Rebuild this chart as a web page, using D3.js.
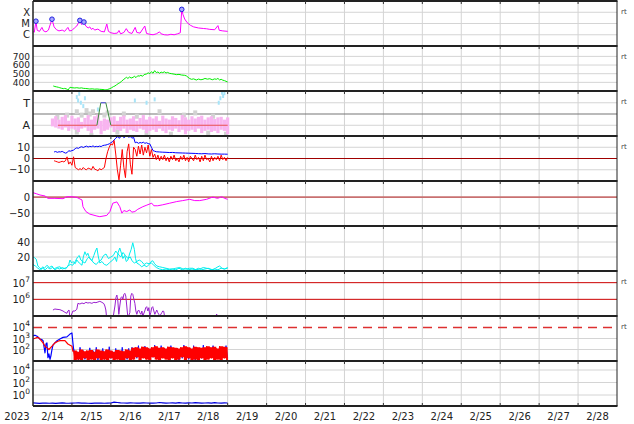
<!DOCTYPE html>
<html><head><meta charset="utf-8">
<script src="https://cdn.jsdelivr.net/npm/d3@7"></script>
<style>body{margin:0;background:#fff}svg{display:block}text{font-family:"DejaVu Sans",sans-serif}</style>
</head><body><svg id="c" width="634" height="424"></svg>
<script>
// ---------- DATA (hours since 2023-02-14 00:00 UTC) ----------
const dayLabels = ["2/14","2/15","2/16","2/17","2/18","2/19","2/20","2/21","2/22","2/23","2/24","2/25","2/26","2/27","2/28"];
const yearLabel = "2023";
const xrayTicks = [[1e-4,"X"],[1e-5,"M"],[1e-6,"C"]];
const xray = [[0,1.9e-6],[0.8,1.7e-6],[1.8,1.6e-5],[2.6,2.5e-6],[4,2.0e-6],[5.5,4.5e-6],[6.5,2.2e-6],[8,1.8e-6],[9.5,2.6e-6],[11.7,2.4e-5],[13,5e-6],[14.5,2.8e-6],[16,2.2e-6],[18,2.6e-6],[19.5,2.0e-6],[21.5,4.5e-6],[22.5,2.2e-6],[24,2.4e-6],[25.5,4e-6],[27,6e-6],[28.9,1.9e-5],[30,8e-6],[31.4,1.35e-5],[32.5,6e-6],[34,4e-6],[35,5e-6],[36,3e-6],[37,3.8e-6],[38,2.6e-6],[40,3.2e-6],[42,2.0e-6],[44,1.8e-6],[45.5,9e-6],[46.5,2.0e-6],[48,1.5e-6],[50,1.3e-6],[52,1.4e-6],[53,2.4e-6],[54,1.2e-6],[56,1.6e-6],[57.5,3.5e-6],[59,1.6e-6],[61,1.3e-6],[63,4.5e-6],[64,1.6e-6],[66,1.4e-6],[68.9,6e-6],[70,1.3e-6],[72,1.1e-6],[74,1.0e-6],[76,1.2e-6],[78,1.8e-6],[79,1.2e-6],[81,1.0e-6],[83,9.5e-7],[85,1.1e-6],[87,1.0e-6],[89,1.2e-6],[90.8,1.5e-6],[91.7,1.8e-4],[92.5,6e-5],[93.5,2.5e-5],[95,1.2e-5],[97,7e-6],[99,5e-6],[102,4e-6],[105,3.6e-6],[107,3.4e-6],[109,3e-6],[112,2.8e-6],[114,6.5e-6],[114.8,2.5e-6],[117,2.2e-6],[120,2.0e-6]];
const flares = [[1.8,1.6e-5],[11.7,2.4e-5],[28.9,1.9e-5],[31.4,1.35e-5],[91.7,1.8e-4]];

const speedTicks = [400,500,600,700];
const speed = [[12.5,358],[13.5,352],[14.5,348],[15.6,343],[16.5,338],[17.5,332],[18.7,327],[19.5,330],[20.5,325],[21.2,318],[21.7,312],[22.3,330],[22.8,343],[24,338],[25.8,335],[27,338],[28.5,333],[30,336],[31,331],[32.5,329],[34,326],[35,323],[36.5,325],[38,321],[39.5,323],[41,320],[42.5,318],[44,315],[45,312],[46,318],[47.4,327],[48.5,338],[49.5,350],[50.5,358],[51.5,372],[52.5,385],[53.5,396],[54.5,410],[55.5,428],[56,435],[57,450],[57.7,458],[58.5,445],[59.5,462],[60.5,450],[61.7,458],[62.5,470],[63.5,455],[64.5,475],[65.8,473],[66.5,482],[67.5,470],[68.5,490],[70,497],[71,510],[72,500],[73,523],[74,505],[75,535],[76,512],[77,520],[78,505],[79,518],[80,512],[81,522],[82,508],[83,515],[84,505],[85.5,500],[87,495],[88.4,489],[90,492],[91.5,485],[93.5,481],[94.5,475],[95.6,458],[96.5,445],[97.7,435],[99,440],[100.7,427],[102,438],[103.5,430],[104.8,435],[106,445],[107.5,437],[109,442],[110.5,430],[112,440],[113,435],[114,445],[115,428],[116,435],[117,425],[118,420],[119,412],[120,404]];

const probTicks = [[3,"T"],[1,"A"]];
const probHours = [39.4,41.8,44.9,48];
const probLevels = [1,3,3,1];
const pinkStart = 12, pinkStep = 2;
const pinkHi = [1.6,1.8,1.5,1.75,1.9,1.4,1.85,1.6,1.7,1.3,1.65,1.9,1.5,1.8,1.95,1.4,1.6,1.5,1.7,1.8,1.4,1.75,1.85,1.5,1.6,1.8,1.4,1.65,1.9,1.5,1.75,1.6,1.8,1.4,1.85,1.6,1.5,1.8,1.65,1.45,1.9,1.7,1.5,1.8,1.6,1.75,1.85,1.5,1.7,1.8,1.55,1.7,1.75,1.5,1.7];
const pinkLo = [0.9,0.8,0.7,0.6,0.8,0.5,0.7,0.6,0.4,0.7,0.8,0.5,0.3,0.6,0.7,0.2,0.5,0.6,0.8,0.4,0.6,0.5,0.7,0.3,0.6,0.5,0.4,0.7,0.6,0.3,0.5,0.6,0.4,0.7,0.5,0.3,0.6,0.5,0.7,0.4,0.6,0.2,0.5,0.6,0.4,0.7,0.3,0.5,0.6,0.4,0.5,0.3,0.6,0.5,0.2];
const grayPts = [[15,1.7],[21,1.9],[27,2.2],[30,1.9],[33,2.3],[35,2.0],[37,2.2],[44,1.9],[46,2.1],[52,0.4],[56,2.0],[64,1.8],[70,0.3],[78,2.2],[85,0.2],[93,1.9],[100,2.1],[108,0.3],[111,1.8],[119,0.2],[36,0.1],[27,0.4]];
const cyanPts = [[27,3.5],[27.8,3.2],[28.5,3.8],[29.5,3.0],[31,2.7],[32,3.4],[40,2.4],[62.8,3.2],[70,3.0],[75,3.3],[114.5,3.0],[115.5,3.4],[116.5,3.9],[117.2,3.6],[118,3.85]];

const bTicks = [10,0,-10];
const bt = [[13,5.8],[14,6.2],[15,5.5],[16,6],[17,5.8],[18,6.3],[19,5.5],[20,4.8],[21,5.2],[22,6.9],[23,6.5],[24,7],[25,7.5],[26,8.7],[27,9.5],[28,9],[29,10],[30,10.5],[31,9.8],[32,10.5],[33,11],[34,10.2],[35,10.8],[36,10.5],[37,11.2],[38,10.4],[39,10.8],[40,10.5],[41,11],[42,10.6],[43,11.5],[44,11.8],[45,12],[46,12.5],[47,13],[48,14],[49,15],[50,16.5],[51,18],[52,19.5],[53,18],[54,19],[55,20],[56,18.5],[57,19.5],[58,20],[59,19],[60,19.5],[61,18],[62,19],[63,14],[64,14.5],[65,13.5],[66,14.2],[67,13.8],[68,14.5],[69,13.5],[70,14],[71,13.2],[72,13],[73,10],[74,7],[75,6.5],[76,6],[78,5.8],[80,5.6],[82,5.5],[84,5.3],[86,5.4],[88,5.1],[90,5],[92,4.9],[94,4.8],[96,4.7],[98,4.6],[100,4.5],[102,4.3],[104,4.2],[106,4.4],[108,4.1],[110,4],[112,4.2],[114,4],[116,3.9],[118,3.9],[120,3.8]];
const bzStart = 13;
const bz = [-2,-2.5,-3,-3.5,-3,-2.5,-3,-2,1.5,-5,-3,-6,1.5,-8,-9,-10,-9,-10,-8,-9.5,-10,-8.5,-9,-10,-7,-9.5,-10,-11,-9,-10,-9,-8,0,6,10,13,12,16,4,-10,-19,-6,8,-8,-17,6,13,-5,-14,10,8,2,11,4,12,3,10,5,12,2,8,1,4,-1,3,-2,2,-1,3,-2,1,-3,2,-1,3,-2,0,-3,2,-1,3,-2,1,-3,2,0,-2,3,-1,1,-3,2,-2,3,-1,0,-3,2,-2,1,-1,2,-2,3,-1,1,-2,1];

const dstTicks = [0,-50];
const dst = [[0,13.7],[2.3,10],[4.3,6.5],[7.4,3.4],[9.2,-4],[13.5,-4],[18.5,-5],[20.9,1],[24,1],[27,-1],[30.2,-9],[30.8,-30],[32.6,-45],[35,-53],[39.4,-59],[41.2,-61],[45.5,-57],[47.4,-45],[49.2,-19],[51.7,-15],[53.5,-30],[54.8,-50],[56,-42],[57.8,-45],[59.7,-40],[60.9,-47],[62.8,-45],[64.6,-38],[67.7,-30],[70.2,-25],[73.2,-19],[74.5,-27],[76.9,-27],[80,-24],[84.3,-19],[88.6,-14],[92.3,-11],[96.6,-7],[99.7,-11],[102.8,-11],[107,-7],[110.8,0],[113.8,-4],[116.3,1],[118.2,-4],[120,-7]];

const denTicks = [40,20];
const cyanA = [[0,20],[1,19],[2,17],[3,8],[4,6],[5,4],[6,7],[7,5],[8.6,9],[10,6],[11.7,8],[13,4],[14.5,6],[16.6,7],[18,4],[19.5,5],[20.9,6],[22,10],[22.8,16],[23.8,12],[24.6,14],[26,11],[27,16],[28.5,12],[30.2,9],[31,20],[32,27],[33,22],[33.8,25],[35,18],[36.3,15],[37.5,22],[38.5,28],[39.4,32],[40.3,20],[41.2,12],[42.5,14],[44,10],[45.5,9],[47,12],[48,14],[49.2,16],[50.5,20],[51.5,14],[52.5,26],[53.5,32],[54.5,25],[55.4,18],[56.5,22],[57.5,14],[58.5,16],[59.5,24],[60.5,30],[61.5,39],[62.5,30],[63.2,18],[64,12],[65.5,10],[67,7],[68.5,9],[70.2,7],[71.5,10],[72.8,14],[73.8,15],[75,11],[76.3,8],[78,7],[80,6],[82,5],[84,4],[86.2,4],[88,5],[90.5,6],[92.5,4],[94.8,4],[96.5,5],[98.5,5],[100.5,3],[102.8,4],[105,6],[107,5],[109,4],[110.8,3],[112.5,5],[114,7],[115,8],[116.5,5],[118,4],[120,6]];
const cyanB = [[0,10],[1.5,8],[3,5],[4.5,3],[6,5],[7.5,3],[9,6],[10.5,4],[12,6],[13.5,3],[15,5],[16.5,4],[18,6],[20,4],[21.5,8],[23,10],[24.5,9],[26,14],[27.5,20],[28.5,22],[29.5,16],[30.5,14],[32,12],[33.5,18],[34.5,20],[36,16],[37.5,12],[39,10],[40.5,14],[42,16],[43.5,22],[45,24],[46.5,18],[48,20],[49.5,22],[51,28],[52.5,24],[54,20],[55.5,26],[57,22],[58.5,18],[60,20],[61,15],[62.5,12],[64,14],[65.5,16],[67,14],[68.5,10],[70,12],[71.5,11],[73,12],[74.5,9],[76,6],[78,4],[80,3],[82,4],[84,3],[86,4],[88,3],[90,5],[92,3],[94,5],[96,3],[98,4],[100,3],[102,5],[104,3],[106,4],[108,5],[110,3],[112,4],[114,3],[116,5],[118,4],[120,5]];

const fluTicks = [7,6]; // exponents
const fluRefLines = [7,6];
const fluLog = [[12.3,5.36],[13.5,5.42],[14.8,5.4],[16.6,5.38],[18.5,5.3],[19.7,5.22],[20.9,5.16],[21.5,5.3],[22.2,5.36],[22.8,4.9],[23.4,5.0],[24.6,5.3],[25.8,5.3],[27,5.4],[27.7,5.76],[28.9,5.72],[30.2,5.78],[31.4,5.74],[32.6,5.82],[33.8,5.78],[35,5.8],[36.3,5.76],[37.5,5.82],[38.8,5.8],[40,5.84],[41.2,5.88],[42.5,5.82],[43.7,5.74],[44.3,5.6],[44.9,5.36],[45.5,4.8],[47,null],[49.2,4.8],[50.5,5.6],[51.1,6.1],[51.7,6.26],[52.3,5.9],[52.9,5.1],[53.5,5.6],[54.2,6.1],[54.8,6.16],[55.4,6.0],[56,6.3],[56.6,6.36],[57.2,6.2],[57.8,5.6],[58.5,4.9],[59.7,5.2],[60.3,6.2],[60.9,6.36],[61.5,6.3],[62.2,6.0],[62.8,5.76],[63.4,5.3],[64,5.1],[64.6,5.3],[65.2,5.36],[65.8,5.2],[66.5,5.1],[67.1,5.3],[67.7,5.0],[68.9,5.3],[69.5,5.5],[70.1,5.56],[70.8,5.3],[71.4,5.5],[72,5.0],[72.6,5.2],[73.2,5.5],[73.8,5.56],[74.5,5.3],[75.1,5.1],[76.3,5.36],[76.9,5.2],[78.2,5.0],[79.4,5.2],[80,5.3],[80.6,5.28],[81.2,4.9],[90,null],[112.6,4.9],[113.2,5.12],[113.8,4.9]];

const partTicks = [4,3,2]; // exponents
const partRef = 4;
const bluePartLog = [[0,3.23],[1.2,3.3],[2.5,3.2],[4.3,2.95],[5.5,2.9],[6.2,2.8],[7.4,1.7],[8,2.5],[8.6,2.6],[9.2,1.25],[9.8,1.6],[10.5,1.1],[11,1.4],[11.7,2.0],[12.3,2.4],[13.5,2.6],[14.8,2.8],[16.6,2.95],[18.5,3.1],[20.9,3.15],[22.8,3.4],[24,3.5],[24.6,2.6],[25.2,1.8]];
const redPartLog = [[0,2.95],[1.8,3.05],[3.1,3.1],[4.3,2.95],[6.2,2.6],[7.4,2.3],[8.6,2.15],[9.8,2.0],[11.7,2.3],[13.5,2.6],[15.4,2.75],[16.6,2.8],[19.7,2.8],[21.5,2.5],[24,2.3],[24.6,1.8]];
const noiseStart = 25, noiseStep = 2;
const redHi = [1.9,1.8,2.0,1.85,1.9,1.95,1.8,2.0,1.9,1.85,2.0,1.9,1.8,1.95,1.9,1.85,2.0,1.9,2.15,2.2,2.1,2.25,2.2,2.1,2.2,2.3,2.15,2.2,2.1,2.25,2.2,2.15,2.1,2.2,2.3,2.2,2.1,2.25,2.2,2.15,2.2,2.3,2.2,2.25,2.1,2.3,2.25,2.2];
const redLo = [1.0,1.1,0.9,1.2,1.0,1.1,0.95,1.2,1.0,1.1,0.9,1.2,1.0,1.1,1.0,0.9,1.2,1.0,1.1,1.3,1.0,1.2,1.1,1.0,1.3,1.1,1.0,1.2,1.1,0.9,1.2,1.0,1.1,1.3,1.0,1.2,1.0,1.1,0.9,1.2,1.0,1.1,1.2,1.0,1.1,0.9,1.2,1.0];
const blueHi = [2.1,1.8,2.2,1.9,1.7,2.15,1.9,2.2,1.8,2.1,1.9,2.25,1.8,2.1,1.9,2.2,1.8,2.1,2.2,2.1,2.35,2.0,2.3,2.1,1.9,2.4,2.0,2.35,2.1,2.0,2.35,1.9,2.1,2.0,2.4,2.1,1.9,2.35,2.0,2.1,2.4,2.0,2.1,2.35,1.9,2.1,2.0,2.35];
const blueLo = [1.2,1.0,1.3,1.1,1.0,1.2,1.1,1.0,1.3,1.1,1.0,1.2,1.1,1.3,1.0,1.2,1.1,1.0,1.3,1.2,1.1,1.4,1.2,1.1,1.3,1.2,1.0,1.3,1.2,1.1,1.3,1.2,1.0,1.2,1.3,1.1,1.2,1.0,1.3,1.2,1.1,1.2,1.3,1.0,1.2,1.1,1.3,1.2];

const lowTicks = [4,2,0]; // exponents
const lowStep = 2;
const lowLog = [-1.25,-1.3,-1.35,-1.3,-1.28,-1.32,-1.3,-1.35,-1.3,-1.25,-1.3,-1.32,-1.3,-1.28,-1.25,-1.3,-1.3,-1.32,-1.35,-1.3,-1.28,-1.3,-1.32,-1.3,-1.28,-1.15,-1.2,-1.25,-1.28,-1.3,-1.25,-1.28,-1.3,-1.3,-1.25,-1.28,-1.3,-1.3,-1.28,-1.2,-1.25,-1.3,-1.28,-1.25,-1.3,-1.22,-1.28,-1.3,-1.25,-1.28,-1.22,-1.25,-1.3,-1.28,-1.25,-1.3,-1.22,-1.28,-1.3,-1.25,-1.28];
const rtPanels = [0,1,2,3,6,7];

// ---------- LAYOUT ----------
const svg = d3.select('#c');
const L = 33, R = 617, PT = 1, PH = 45, NP = 9;
const t0 = Date.UTC(2023,1,14);
const x = d3.scaleUtc().domain([new Date(t0), new Date(Date.UTC(2023,2,1))]).range([L,R]);
const hx = h => x(new Date(t0 + h*3600000));
const ptop = i => PT + PH*i, pbot = i => PT + PH*(i+1);

const ys = [
  d3.scaleLog().domain([1e-7,1e-3]).range([pbot(0),ptop(0)]),
  d3.scaleLinear().domain([300,820]).range([pbot(1),ptop(1)]),
  d3.scaleLinear().domain([0,4]).range([pbot(2)+0.5,ptop(2)+0.5]),
  d3.scaleLinear().domain([-20,20]).range([pbot(3),ptop(3)]),
  d3.scaleLinear().domain([-90,50]).range([pbot(4),ptop(4)]),
  d3.scaleLinear().domain([0,60]).range([pbot(5)+1,ptop(5)+1]),
  d3.scaleLog().domain([1e5,Math.pow(10,7.7)]).range([pbot(6),ptop(6)]),
  d3.scaleLog().domain([Math.pow(10,0.955),Math.pow(10,5.045)]).range([pbot(7),ptop(7)]),
  d3.scaleLog().domain([Math.pow(10,-1.76),Math.pow(10,5.44)]).range([pbot(8),ptop(8)])
];

const defs = svg.append('defs');
for (let i=0;i<NP;i++) defs.append('clipPath').attr('id','cp'+i).append('rect')
  .attr('x',L).attr('y',ptop(i)+1).attr('width',R-L).attr('height',PH-1);
const layer = i => svg.append('g').attr('clip-path',`url(#cp${i})`);

// vertical grid
const days = d3.utcDay.range(new Date(t0+86400000), new Date(Date.UTC(2023,2,1)));
svg.append('g').selectAll('line').data(days).join('line')
  .attr('x1',d=>x(d)).attr('x2',d=>x(d)).attr('y1',PT).attr('y2',pbot(8))
  .attr('stroke','#d4d4d4').attr('stroke-width',1);

// horizontal grid
function hgrid(i, vals, color, w){
  svg.append('g').selectAll('line').data(vals).join('line')
    .attr('x1',L).attr('x2',R).attr('y1',d=>ys[i](d)).attr('y2',d=>ys[i](d))
    .attr('stroke',color||'#d4d4d4').attr('stroke-width',w||1);
}
hgrid(0, xrayTicks.map(d=>d[0]));
hgrid(1, speedTicks);
hgrid(2, [3,1]); hgrid(2,[2],'#777',1.2);
hgrid(3, [10,-10]);
hgrid(4, [-50]);
hgrid(5, denTicks);
hgrid(8, lowTicks.map(e=>Math.pow(10,e)));
hgrid(7, [3,2].map(e=>Math.pow(10,e)));

const lineGen = (ix, yf) => d3.line().defined(d=>d[1]!=null).x(d=>hx(d[0])).y(d=>yf(d[1]));
function path(i, data, yf, color, w){
  layer(i).append('path').datum(data).attr('d', lineGen(i,yf)).attr('fill','none')
    .attr('stroke',color).attr('stroke-width',w||1).attr('stroke-linejoin','round');
}

// Panel 0: X-ray
path(0, xray, v=>ys[0](v), '#ff00ff', 1);
layer(0).selectAll('circle').data(flares).join('circle')
  .attr('cx',d=>hx(d[0])).attr('cy',d=>ys[0](d[1])).attr('r',2.3)
  .attr('fill','#a8a8ff').attr('stroke','#2020e0').attr('stroke-width',1);

// Panel 1: speed
path(1, speed, v=>ys[1](v), '#00ee00', 1);

// Panel 2: probability-like
const g2 = layer(2);
g2.selectAll('rect.gr').data(grayPts).join('rect')
  .attr('x',d=>hx(d[0])-2).attr('y',d=>ys[2](d[1])-2.5).attr('width',4).attr('height',5).attr('fill','#d2d2d2');
g2.selectAll('rect.pk').data(pinkHi.map((h,k)=>[pinkStart+k*pinkStep,h,pinkLo[k]])).join('rect')
  .attr('x',d=>hx(d[0])-1.6).attr('width',3.2)
  .attr('y',d=>ys[2](d[1])).attr('height',d=>ys[2](d[2])-ys[2](d[1])).attr('fill','#f8b4f0');
g2.selectAll('rect.cy').data(cyanPts).join('rect')
  .attr('x',d=>hx(d[0])-1).attr('y',d=>ys[2](d[1])-2).attr('width',2).attr('height',4).attr('fill','#a8e4f8');
const probPts = probHours.map((h,k)=>[h,probLevels[k]]);
path(2, [[15.4,1],[probHours[0],1]], v=>ys[2](v), '#e85050', 1.2);
path(2, [[probHours[3],1],[120,1]], v=>ys[2](v), '#e85050', 1.2);
path(2, probPts.slice(0,2), v=>ys[2](v), '#3c8a3c', 1);
path(2, probPts.slice(1,3), v=>ys[2](v), '#5050d0', 1.2);
path(2, probPts.slice(2,4), v=>ys[2](v), '#3c8a3c', 1);

// Panel 3: B fields
hgrid(3,[0],'#a00000',1);
path(3, bt, v=>ys[3](v), '#0000ff', 1);
path(3, bz.map((v,k)=>[bzStart+k,v]), v=>ys[3](v), '#ff0000', 1);

// Panel 4: Dst
hgrid(4,[0],'#c87070',1.8);
path(4, dst, v=>ys[4](v), '#ff00ff', 1);

// Panel 5: density
path(5, cyanB, v=>ys[5](v), '#00eeee', 1);
path(5, cyanA, v=>ys[5](v), '#00eeee', 1);

// Panel 6: fluence
hgrid(6, fluRefLines.map(e=>Math.pow(10,e)), '#cc0000', 1);
path(6, fluLog, v=>ys[6](Math.pow(10,v)), '#9a20d0', 1);

// Panel 7: particles
svg.append('line').attr('x1',L).attr('x2',R).attr('y1',ys[7](Math.pow(10,partRef))).attr('y2',ys[7](Math.pow(10,partRef)))
  .attr('stroke','#dd3030').attr('stroke-width',1.5).attr('stroke-dasharray','9,6');
const zig = (hi,lo) => hi.flatMap((h,k)=>[[noiseStart+k*noiseStep,h],[noiseStart+k*noiseStep+noiseStep/2,lo[k]]]);
const py7 = v=>ys[7](Math.pow(10,v));
path(7, bluePartLog, py7, '#0000ff', 1.2);
path(7, zig(blueHi,blueLo), py7, '#1010ff', 1);
layer(7).append('path').datum(redHi.map((h,k)=>[noiseStart+k*noiseStep,h,redLo[k]]).concat([[120,redHi[redHi.length-1],redLo[redLo.length-1]]]))
  .attr('d', d3.area().curve(d3.curveStepAfter).x(d=>hx(d[0])).y0(d=>py7(d[2])).y1(d=>py7(d[1])))
  .attr('fill','#ff0000');
path(7, zig(redHi,redLo), py7, '#ff0000', 1);
path(7, redPartLog, py7, '#ff0000', 1.2);

// Panel 8: low
path(8, lowLog.map((v,k)=>[k*lowStep,v]), v=>ys[8](Math.pow(10,v)), '#0000dd', 1.2);

// panel separators & frame
svg.append('g').selectAll('line').data(d3.range(NP+1)).join('line')
  .attr('x1',L).attr('x2',R+0.5).attr('y1',d=>ptop(d)).attr('y2',d=>ptop(d))
  .attr('stroke','#222').attr('stroke-width',2);
svg.append('line').attr('x1',L).attr('x2',L).attr('y1',PT).attr('y2',pbot(8)).attr('stroke','#222').attr('stroke-width',1.5);
svg.append('line').attr('x1',R).attr('x2',R).attr('y1',PT).attr('y2',pbot(8)).attr('stroke','#222').attr('stroke-width',1);
// day ticks
const tk = svg.append('g');
for (let i=0;i<=NP;i++) tk.selectAll(null).data(days).join('line')
  .attr('x1',d=>x(d)).attr('x2',d=>x(d)).attr('y1',ptop(i)).attr('y2',ptop(i)+(i===NP?-3:3))
  .attr('stroke','#333').attr('stroke-width',1);

// y labels
function ylab(i, v, txt, fs){
  svg.append('text').attr('x',30).attr('y',ys[i](v)).attr('dy','0.36em').attr('text-anchor','end')
    .attr('font-size',fs||10).attr('fill','#222').text(txt);
}
function ylabExp(i, e){
  const t = svg.append('text').attr('x',30).attr('y',ys[i](Math.pow(10,e))+4).attr('text-anchor','end')
    .attr('font-size',10).attr('fill','#222');
  t.append('tspan').text('10');
  t.append('tspan').attr('dy',-5).attr('font-size',7.5).text(e);
}
xrayTicks.forEach(d=>ylab(0,d[0],d[1],10));
speedTicks.forEach(v=>ylab(1,v,String(v),9));
probTicks.forEach(d=>ylab(2,d[0],d[1],11));
bTicks.forEach(v=>ylab(3,v,String(v).replace('-','\u2212')));
dstTicks.forEach(v=>ylab(4,v,String(v).replace('-','\u2212')));
denTicks.forEach(v=>ylab(5,v,String(v)));
fluTicks.forEach(e=>ylabExp(6,e));
partTicks.forEach(e=>ylabExp(7,e));
lowTicks.forEach(e=>ylabExp(8,e));

// rt labels
rtPanels.forEach(i=>svg.append('text').attr('x',621).attr('y',ptop(i)+13).attr('font-size',7).attr('fill','#444').text('rt'));

// x labels
svg.append('text').attr('x',17).attr('y',420).attr('text-anchor','middle').attr('font-size',10).attr('fill','#222').text(yearLabel);
svg.append('g').selectAll('text').data(dayLabels).join('text')
  .attr('x',(d,k)=>hx(k*24+12)).attr('y',420).attr('text-anchor','middle').attr('font-size',10).attr('fill','#222')
  .text(d=>d);
</script></body></html>
